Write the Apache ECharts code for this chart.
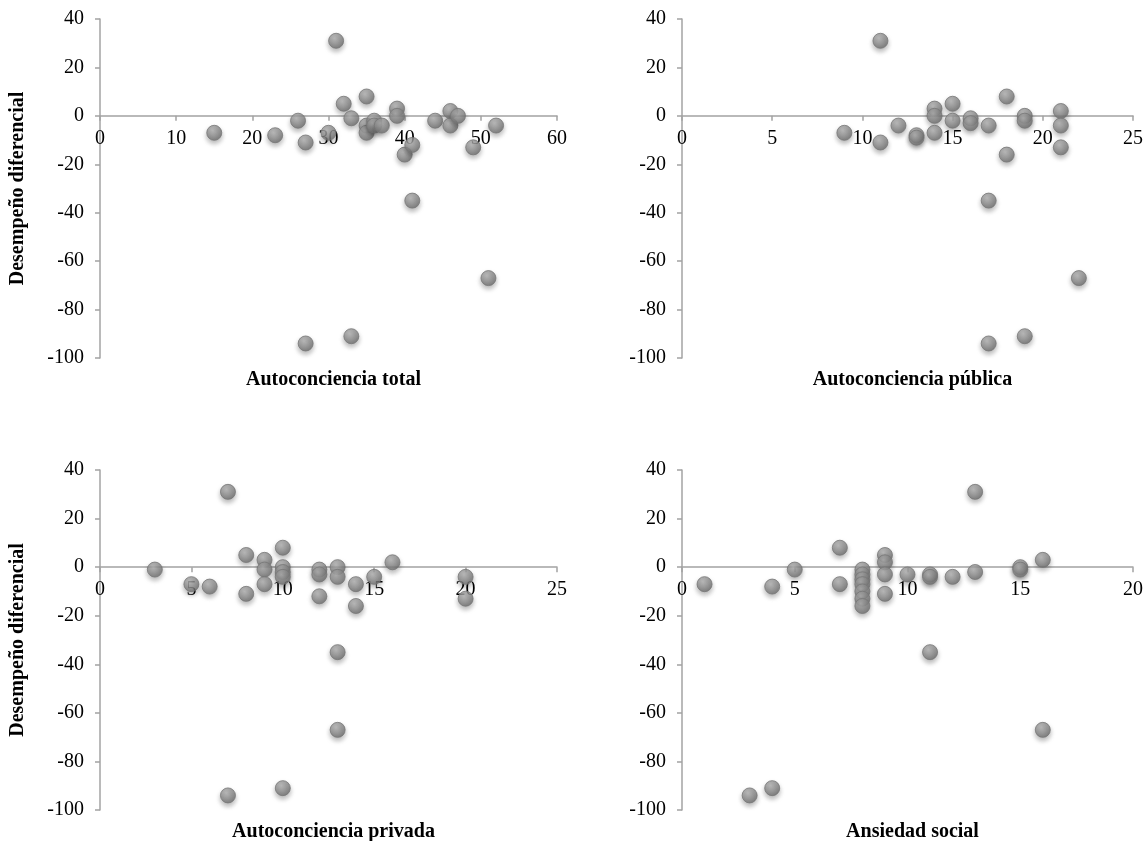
<!DOCTYPE html>
<html>
<head>
<meta charset="utf-8">
<script src="https://cdn.jsdelivr.net/npm/echarts@6/dist/echarts.min.js"></script>
<style>
  html, body { margin: 0; padding: 0; background: #fff; }
  #chart { width: 1146px; height: 841px; }
</style>
</head>
<body>
<div id="chart"></div>
<script>
  // [x, desempeño diferencial] por participante
  const totalData = [
    [31, 31], [32, 5], [35, 8], [26, -2], [33, -1], [15, -7], [23, -8], [27, -11],
    [30, -7], [35, -4], [35, -7], [36, -2], [36, -4], [37, -4], [39, 3], [39, 0],
    [40, -16], [41, -12], [44, -2], [46, 2], [46, -4], [47, 0], [49, -13], [52, -4],
    [41, -35], [51, -67], [33, -91], [27, -94],
  ];
  const publicaData = [
    [11, 31], [18, 8], [15, 5], [14, 3], [14, 0], [21, 2], [19, 0], [19, -2],
    [16, -1], [16, -3], [15, -2], [17, -4], [21, -4], [12, -4], [13, -8], [13, -9],
    [14, -7], [9, -7], [11, -11], [21, -13], [18, -16], [17, -35], [22, -67],
    [19, -91], [17, -94],
  ];
  const privadaData = [
    [7, 31], [10, 8], [8, 5], [9, 3], [16, 2], [3, -1], [9, -1], [10, 0],
    [10, -2], [10, -4], [12, -1], [12, -3], [13, 0], [13, -4], [15, -4], [20, -4],
    [5, -7], [6, -8], [9, -7], [8, -11], [12, -12], [14, -7], [14, -16], [20, -13],
    [7, -94], [10, -91], [13, -67], [13, -35],
  ];
  const ansiedadData = [
    [13, 31], [7, 8], [9, 5], [9, 2], [16, 3], [5, -1], [15, 0], [15, -1],
    [8, -1], [8, -3], [8, -5], [8, -7], [8, -10], [8, -13], [8, -16], [9, -3],
    [9, -11], [10, -3], [11, -3], [11, -4], [12, -4], [13, -2], [7, -7], [1, -7],
    [4, -8], [11, -35], [16, -67], [3, -94], [4, -91],
  ];

  const panelTitles = ['Autoconciencia total', 'Autoconciencia pública', 'Autoconciencia privada', 'Ansiedad social'];
  const xMax = [60, 25, 25, 20];
  const xStep = [10, 5, 5, 5];
  const yMin = -100;
  const yMax = 40;
  const yStep = 20;
  const yTitle = 'Desempeño diferencial';

  const FONT = '"Liberation Serif", "DejaVu Serif", serif';
  const AXIS_COLOR = '#a3a3a3';

  const grids = [
    { left: 100, top: 19, width: 457, height: 339 },
    { left: 682, top: 19, width: 451, height: 339 },
    { left: 100, top: 470, width: 457, height: 340 },
    { left: 682, top: 470, width: 451, height: 340 },
  ];
  const seriesData = [totalData, publicaData, privadaData, ansiedadData];

  // el eje x cruza en y = 0: se sube desde el borde inferior de la rejilla
  const zeroOffset = g => -g.height * (0 - yMin) / (yMax - yMin);

  const markerStyle = {
    color: {
      type: 'radial',
      x: 0.4,
      y: 0.35,
      r: 0.65,
      colorStops: [
        { offset: 0, color: '#b8b8b8' },
        { offset: 0.6, color: '#8c8c8c' },
        { offset: 1, color: '#6e6e6e' },
      ],
    },
    borderColor: '#777',
    borderWidth: 1,
    shadowBlur: 5,
    shadowOffsetY: 3,
    shadowColor: 'rgba(0, 0, 0, 0.35)',
  };

  const myChart = echarts.init(document.getElementById('chart'));
  myChart.setOption({
    animation: false,
    title: grids.map((g, i) => ({
      text: panelTitles[i],
      left: g.left + g.width / 2,
      top: g.top + g.height + 7,
      textAlign: 'center',
      textStyle: { fontFamily: FONT, fontSize: 20, fontWeight: 'bold', color: '#000' },
    })),
    grid: grids.map(g => ({ ...g, containLabel: false })),
    xAxis: grids.map((g, i) => ({
      type: 'value',
      gridIndex: i,
      position: 'bottom',
      offset: zeroOffset(g),
      min: 0,
      max: xMax[i],
      interval: xStep[i],
      axisLine: { show: true, onZero: false, lineStyle: { color: AXIS_COLOR, width: 1.5 } },
      axisTick: { show: true, inside: false, length: 5, lineStyle: { color: AXIS_COLOR, width: 1.5 } },
      axisLabel: { color: '#000', fontFamily: FONT, fontSize: 20, margin: 13 },
      splitLine: { show: false },
    })),
    yAxis: grids.map((g, i) => ({
      type: 'value',
      gridIndex: i,
      min: yMin,
      max: yMax,
      interval: yStep,
      name: i % 2 === 0 ? yTitle : '',
      nameLocation: 'middle',
      nameRotate: 90,
      nameGap: 72,
      nameTextStyle: { fontFamily: FONT, fontSize: 20, fontWeight: 'bold', color: '#000' },
      axisLine: { show: true, onZero: false, lineStyle: { color: AXIS_COLOR, width: 1.5 } },
      axisTick: { show: true, inside: false, length: 5, lineStyle: { color: AXIS_COLOR, width: 1.5 } },
      axisLabel: { color: '#000', fontFamily: FONT, fontSize: 20, margin: 16 },
      splitLine: { show: false },
    })),
    series: seriesData.map((d, i) => ({
      type: 'scatter',
      xAxisIndex: i,
      yAxisIndex: i,
      symbol: 'circle',
      symbolSize: 15,
      itemStyle: markerStyle,
      data: d,
    })),
  });
</script>
</body>
</html>
